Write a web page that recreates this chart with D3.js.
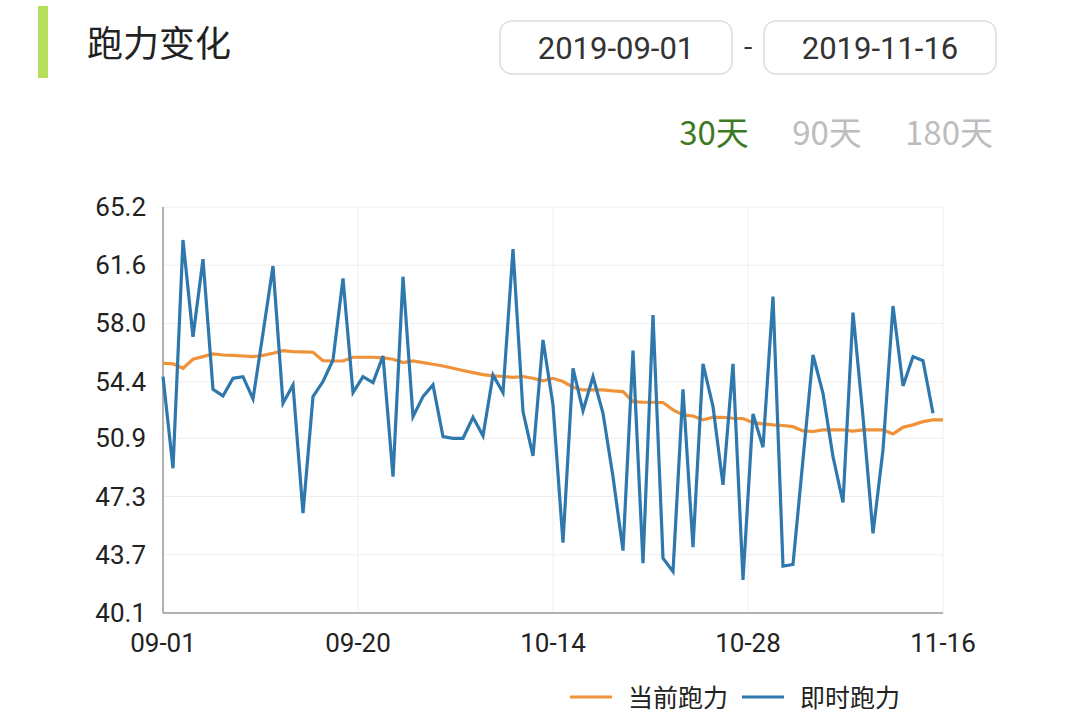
<!DOCTYPE html>
<html><head><meta charset="utf-8">
<script src="https://cdn.jsdelivr.net/npm/d3@7"></script>
<style>body{margin:0;background:#fff;font-family:"Noto Sans CJK SC","Noto Sans",sans-serif;}</style>
</head><body><svg id="c" width="1080" height="721"></svg>
<script>
const yTicks = [40.1, 43.7, 47.3, 50.9, 54.4, 58.0, 61.6, 65.2];
const xLabels = ["09-01", "09-20", "10-14", "10-28", "11-16"];
const current = [55.54,55.50,55.23,55.79,55.95,56.12,56.05,56.03,55.99,55.95,56.03,56.16,56.32,56.26,56.24,56.22,55.70,55.68,55.68,55.91,
  55.91,55.91,55.87,55.79,55.58,55.68,55.58,55.48,55.37,55.23,55.09,54.96,54.84,54.76,54.72,54.67,54.72,54.61,54.45,54.61,
  54.41,54.06,53.89,53.89,53.89,53.83,53.79,53.17,53.13,53.13,53.11,52.66,52.35,52.28,52.04,52.20,52.20,52.14,52.12,51.87,
  51.79,51.73,51.69,51.62,51.36,51.32,51.42,51.42,51.42,51.34,51.42,51.42,51.42,51.17,51.58,51.73,51.93,52.04,52.04];
const instant = [54.71,49.05,63.16,57.18,61.97,53.93,53.52,54.61,54.71,53.33,57.39,61.55,53.07,54.20,46.27,53.48,54.41,55.74,60.79,53.73,
  54.71,54.34,55.99,48.53,60.89,52.24,53.48,54.20,51.00,50.90,50.90,52.20,51.05,54.82,53.73,62.59,52.55,49.81,56.98,52.96,
  44.45,55.23,52.61,54.71,52.45,48.53,43.96,56.32,43.18,58.52,43.49,42.66,53.93,44.17,55.50,52.86,48.02,55.50,42.15,52.41,
  50.35,59.66,43.00,43.10,49.60,56.05,53.68,49.77,46.93,58.67,52.24,45.03,50.18,59.08,54.14,55.95,55.70,52.45];

const svg = d3.select("#c");
const L = 163, R = 943, T = 207, B = 613;
const n = current.length;
const x = d3.scaleLinear().domain([0, n - 1]).range([L, R]);
const y = d3.scaleLinear().domain([40.1, 65.2]).range([B, T]);

// header
svg.append("rect").attr("x", 38).attr("y", 6).attr("width", 10).attr("height", 72).attr("fill", "#b5df5a");
svg.append("text").attr("x", 87).attr("y", 57).attr("font-size", 36).attr("fill", "#222").text("跑力变化");
[[500, "2019-09-01"], [764, "2019-11-16"]].forEach(([bx, t]) => {
  svg.append("rect").attr("x", bx).attr("y", 21).attr("width", 232).attr("height", 53).attr("rx", 12)
    .attr("fill", "#fff").attr("stroke", "#ddd").attr("stroke-width", 1.5);
  svg.append("text").attr("x", bx + 116).attr("y", 59).attr("text-anchor", "middle")
    .attr("font-size", 31).attr("fill", "#333").attr("font-family", "Roboto,sans-serif").text(t);
});
svg.append("text").attr("x", 748).attr("y", 56).attr("text-anchor", "middle").attr("font-size", 28).attr("fill", "#333").text("-");
[[714, "30天", "#3d7a23"], [827, "90天", "#bdbdbd"], [949, "180天", "#bdbdbd"]].forEach(([tx, t, c]) => {
  svg.append("text").attr("x", tx).attr("y", 145).attr("text-anchor", "middle").attr("font-size", 33).attr("fill", c).text(t);
});

// grid
const g = svg.append("g");
g.selectAll(".hg").data(yTicks).join("line").attr("x1", L).attr("x2", R)
  .attr("y1", d => y(d)).attr("y2", d => y(d)).attr("stroke", "#eee");
const xt = d3.range(xLabels.length).map(i => i * (n - 1) / (xLabels.length - 1));
g.selectAll(".vg").data(xt).join("line").attr("y1", T).attr("y2", B)
  .attr("x1", d => x(d)).attr("x2", d => x(d)).attr("stroke", "#eee");
g.append("line").attr("x1", L).attr("x2", L).attr("y1", T).attr("y2", B).attr("stroke", "#999").attr("stroke-width", 1.5);
g.append("line").attr("x1", L).attr("x2", R).attr("y1", B).attr("y2", B).attr("stroke", "#999").attr("stroke-width", 1.5);

g.selectAll(".yl").data(yTicks).join("text").attr("x", 146).attr("y", d => y(d) + 9)
  .attr("text-anchor", "end").attr("font-size", 26).attr("fill", "#222").attr("font-family", "Roboto,sans-serif")
  .text(d => d.toFixed(1));
g.selectAll(".xl").data(xt).join("text").attr("x", d => x(d)).attr("y", 652)
  .attr("text-anchor", "middle").attr("font-size", 26).attr("fill", "#222").attr("font-family", "Roboto,sans-serif")
  .text((d, i) => xLabels[i]);

const line = d3.line().x((d, i) => x(i)).y(d => y(d));
svg.append("path").datum(current).attr("d", line).attr("fill", "none").attr("stroke", "#f0923a").attr("stroke-width", 3.2);
svg.append("path").datum(instant).attr("d", line).attr("fill", "none").attr("stroke", "#2f78ad").attr("stroke-width", 3.2);

// legend
[[570, "#f0923a", "当前跑力"], [742, "#2f78ad", "即时跑力"]].forEach(([lx, c, t]) => {
  svg.append("line").attr("x1", lx).attr("x2", lx + 42).attr("y1", 697).attr("y2", 697).attr("stroke", c).attr("stroke-width", 3);
  svg.append("text").attr("x", lx + 58).attr("y", 707).attr("font-size", 25).attr("fill", "#222").text(t);
});
</script></body></html>
